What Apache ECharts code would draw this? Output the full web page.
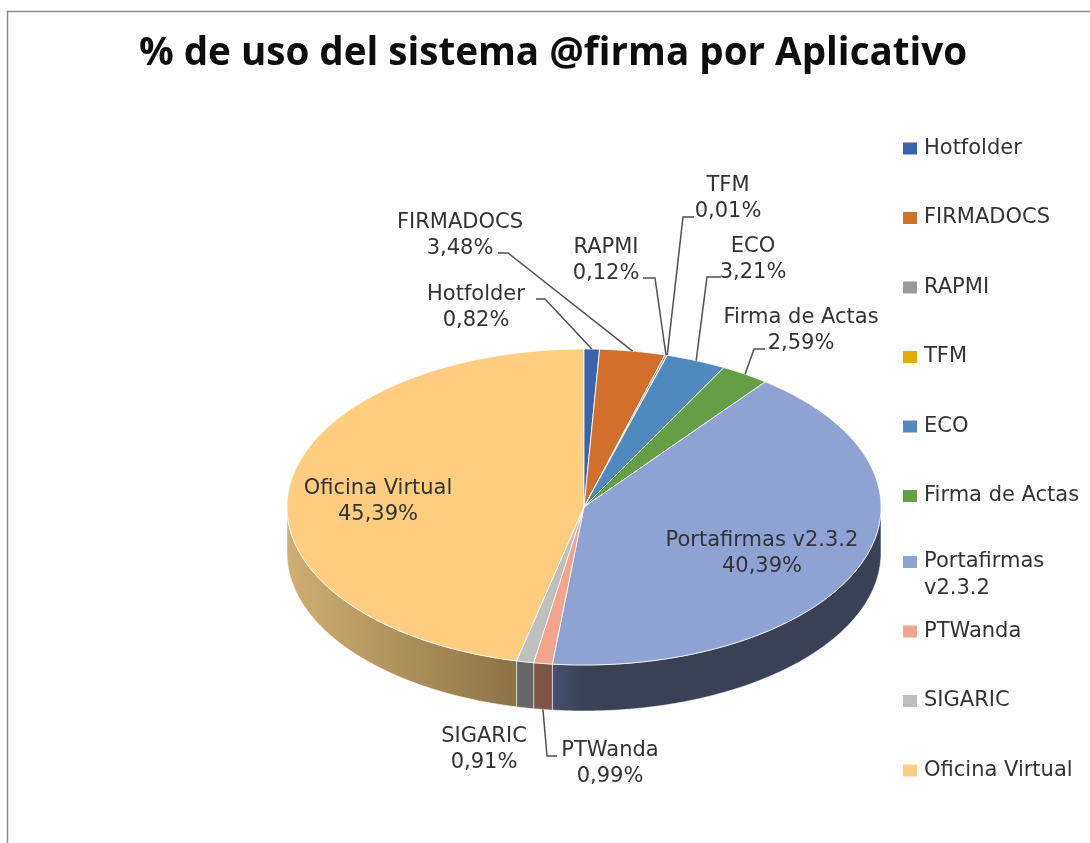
<!DOCTYPE html>
<html><head><meta charset="utf-8">
<style>html,body{margin:0;padding:0;background:#fff}#c{width:1090px;height:843px}</style>
<script src="https://cdn.jsdelivr.net/npm/echarts@6/dist/echarts.min.js"></script>
</head><body><div id="c"></div>
<script>
const titleText = '% de uso del sistema @firma por Aplicativo';
const categories = ['Hotfolder','FIRMADOCS','RAPMI','TFM','ECO','Firma de Actas','Portafirmas v2.3.2','PTWanda','SIGARIC','Oficina Virtual'];
const values = [0.82,3.48,0.12,0.01,3.21,2.59,40.39,0.99,0.91,45.39];
const topColors = ['#3a63ad','#d26f2a','#999999','#e5ac00','#5089bd','#649f45','#8fa2d4','#f2a58a','#bfbfbf','#ffcd80'];
const sideColors = [
  ['#2a4880','#2a4880'],['#8a4a1c','#8a4a1c'],['#666','#666'],['#97720a','#97720a'],['#36597c','#36597c'],
  ['#43692e','#43692e'],['#46516f','#3a4154'],['#7b5648','#7b5648'],['#666666','#666666'],['#d0af72','#8b7346']
];
// label layout (annotation placement, separate from the data)
const labelPos = {
  'Hotfolder':[476,308],'FIRMADOCS':[460,236],'RAPMI':[606,261],'TFM':[728,199],'ECO':[753,260],
  'Firma de Actas':[801,331],'Portafirmas v2.3.2':[762,554],'PTWanda':[610,764],'SIGARIC':[484,750],'Oficina Virtual':[378,502]
};
const leaderElbows = {
  'Hotfolder':[[536,299],[545,299]],'FIRMADOCS':[[498,253],[508,253]],'RAPMI':[[643,278],[655,278]],
  'TFM':[[694,217],[683,217]],'ECO':[[721,277],[707,277]],'Firma de Actas':[[765,349],[754,349]],
  'PTWanda':[[557,756],[547,756]]
};
const centerX = 584, centerY = 507, radiusX = 297, squash = 158/297, depth = 46;
const FONT = '"DejaVu Sans"', TEXT = '#333333';

const total = values.reduce((a,b)=>a+b,0);
let running = 0;
const spans = values.map(v=>{const s=[running,running+v];running+=v;return s;});

function renderer(i){
  const name = categories[i];
  return function(params, api){
    const a0 = api.value(1), a1 = api.value(2);
    const pt = (a,off)=>{const p=api.coord([1,a]);return [p[0], centerY+(p[1]-centerY)*squash+(off||0)];};
    const arc = (from,to,off)=>{
      const n=Math.max(2,Math.ceil((to-from)/total*720));const out=[];
      for(let k=0;k<=n;k++) out.push(pt(from+(to-from)*k/n,off));
      return out;
    };
    const children=[];
    const s0=Math.max(a0,total*0.25), s1=Math.min(a1,total*0.75);
    if(s1>s0){
      const top=arc(s0,s1,0), bot=arc(s0,s1,depth).reverse();
      children.push({type:'polygon',z2:1,shape:{points:top.concat(bot)},style:{
        fill:new echarts.graphic.LinearGradient(0,0,1,0,[{offset:0,color:sideColors[i][0]},{offset:i===6?0.1:1,color:sideColors[i][1]},{offset:1,color:sideColors[i][1]}]),
        stroke:'rgba(255,255,255,0.55)',lineWidth:1}});
    }
    const c=api.coord([0,0]);
    children.push({type:'polygon',z2:2,shape:{points:[[c[0],centerY]].concat(arc(a0,a1,0))},
      style:{fill:topColors[i],stroke:'rgba(255,255,255,0.8)',lineWidth:1}});
    if(leaderElbows[name]){
      const mid=(a0+a1)/2;
      const side=mid>total*0.25&&mid<total*0.75?depth:0;
      const pts=leaderElbows[name].concat([pt(mid,side)]);
      children.push({type:'polyline',z2:50,shape:{points:pts},style:{fill:null,stroke:'#505050',lineWidth:1.5}});
    }
    const lp=labelPos[name];
    children.push({type:'text',z2:60,x:lp[0],y:lp[1],style:{
      text:name+'\n'+values[i].toFixed(2).replace('.',',')+'%',
      fill:TEXT,font:'21px '+FONT,lineHeight:26,align:'center',verticalAlign:'middle'}});
    return {type:'group',children};
  };
}

const series = categories.map((name,i)=>({
  name,type:'custom',coordinateSystem:'polar',z:i===9?1:2+i,silent:true,animation:false,
  encode:{radius:0,angle:1},
  itemStyle:{color:topColors[i]},
  data:[[1,spans[i][0],spans[i][1]]],
  renderItem:renderer(i)
}));

function legendOf(names,top,extra){
  return Object.assign({
    data:names,orient:'vertical',left:903,top,padding:0,itemGap:48.5,itemWidth:14,itemHeight:12,
    icon:'rect',selectedMode:false,
    textStyle:{fontFamily:FONT,fontSize:21,color:TEXT,lineHeight:20,padding:[0,0,0,2]}
  },extra||{});
}

const chart = echarts.init(document.getElementById('c'),null,{renderer:'canvas'});
chart.setOption({
  animation:false,
  backgroundColor:'#fff',
  title:{text:titleText,left:553,top:31,textAlign:'center',padding:0,
    textStyle:{fontFamily:'"Open Sans"',fontWeight:'bold',fontSize:38.6,color:'#0d0d0d',lineHeight:46}},
  tooltip:{show:false},
  polar:{center:[centerX,centerY],radius:radiusX},
  angleAxis:{type:'value',min:0,max:total,startAngle:90,clockwise:true,show:false},
  radiusAxis:{type:'value',min:0,max:1,show:false},
  legend:[
    legendOf(categories.slice(0,6),138),
    legendOf([categories[6]],521.5,{formatter:()=>'\nPortafirmas\nv2.3.2',
      textStyle:{fontFamily:FONT,fontSize:21,color:TEXT,lineHeight:27,padding:[0,0,0,2]}}),
    legendOf(categories.slice(7),621)
  ],
  graphic:[{type:'rect',silent:true,shape:{x:7.5,y:11.5,width:1300,height:1000},style:{fill:null,stroke:'#8c8c8c',lineWidth:1.5}}],
  series
});
</script></body></html>
